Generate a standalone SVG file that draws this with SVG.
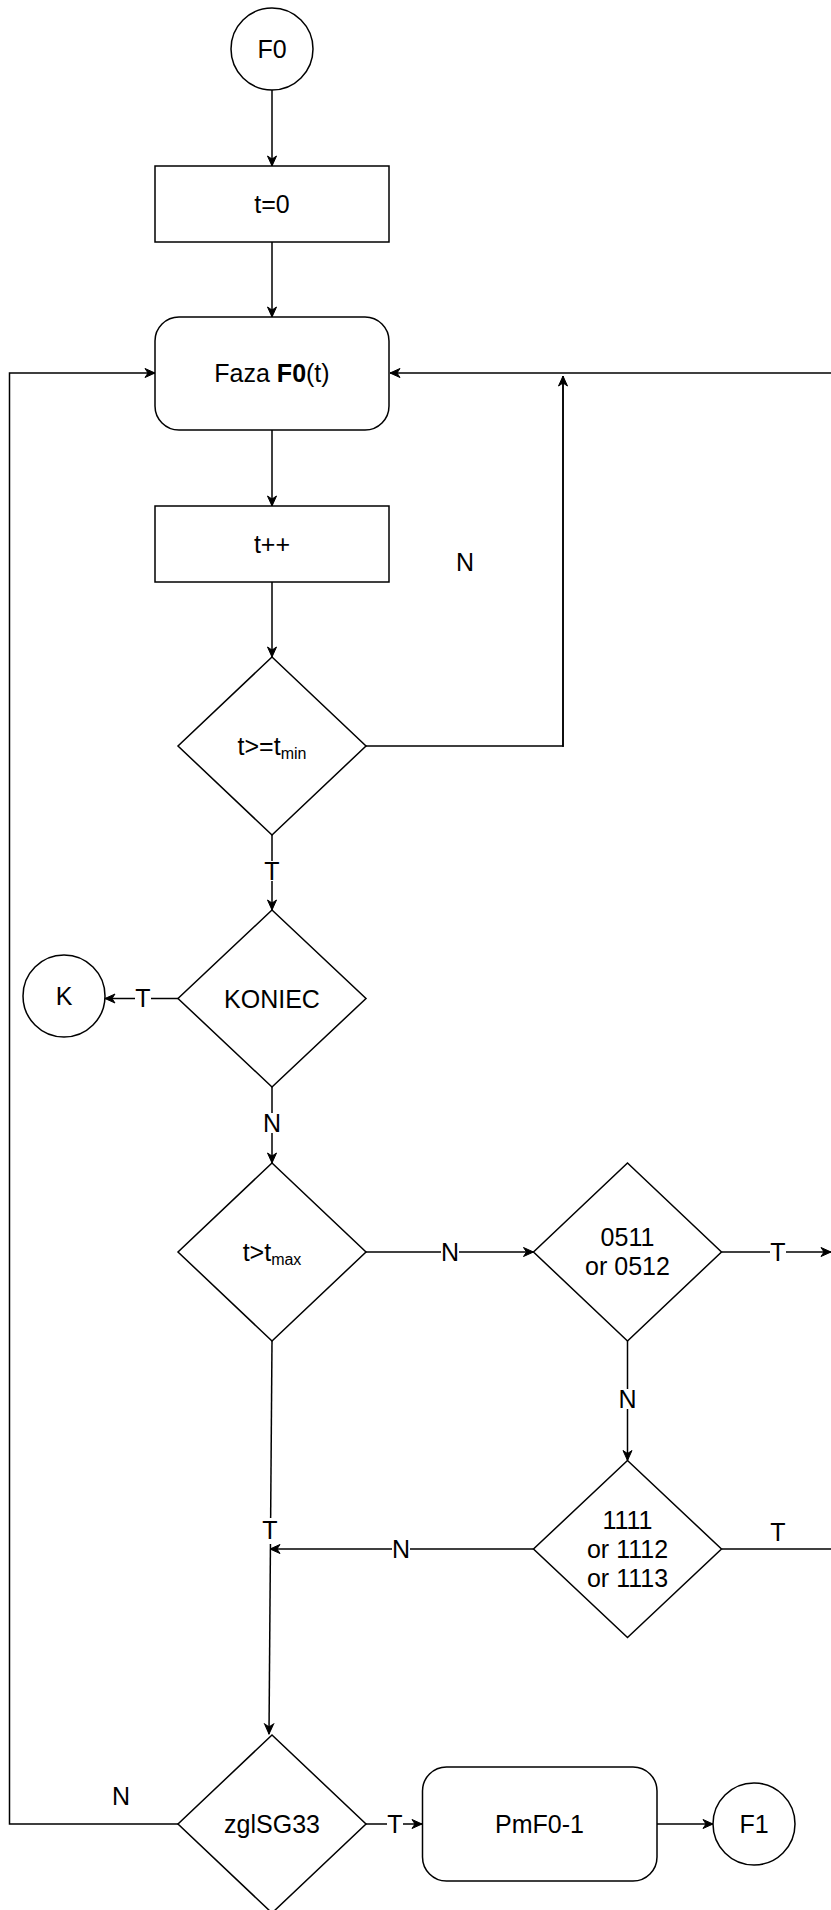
<svg xmlns="http://www.w3.org/2000/svg" width="831" height="1910" viewBox="0 0 831 1910">
<style>
.s{fill:#fff;stroke:#000;stroke-width:1.5}
.c{fill:none;stroke:#000;stroke-width:1.5}
.ca{fill:none;stroke:#000;stroke-width:1.5;marker-end:url(#ah)}
text{font-family:"Liberation Sans",Arial,sans-serif;font-size:25px;fill:#000;text-anchor:middle}
.bg{fill:#fff;stroke:none}
</style>
<defs>
<marker id="ah" viewBox="0 0 12 12" refX="11" refY="6" markerWidth="12" markerHeight="12" markerUnits="userSpaceOnUse" orient="auto">
<path d="M1,1.5 L11,6 L1,10.5 L4,6 Z" fill="#000" stroke="#000" stroke-width="1" stroke-linejoin="miter"/>
</marker>
</defs>
<rect width="831" height="1910" fill="#fff"/>
<g id="connectors">
<path class="ca" d="M272,90 V166"/>
<path class="ca" d="M272,242 V317"/>
<path class="ca" d="M272,430 V506"/>
<path class="ca" d="M272,582 V657"/>
<path class="ca" d="M272,835 V910"/>
<rect class="bg" x="264" y="861" width="16" height="20"/>
<text x="272" y="880">T</text>
<path class="ca" d="M178,998.5 H105"/>
<rect class="bg" x="135" y="988" width="16" height="20"/>
<text x="143" y="1007">T</text>
<path class="ca" d="M272,1087 V1163"/>
<rect class="bg" x="263" y="1113" width="18" height="20"/>
<text x="272" y="1132">N</text>
<path class="c" d="M366,746 H563 V376"/>
<path class="ca" d="M563,747 V376"/>
<path class="ca" d="M831,373 H390"/>
<path class="ca" d="M366,1252 H533.5"/>
<rect class="bg" x="441" y="1242" width="18" height="20"/>
<text x="450" y="1261">N</text>
<path class="ca" d="M721.5,1252 H831"/>
<rect class="bg" x="770" y="1242" width="16" height="20"/>
<text x="778" y="1261">T</text>
<path class="ca" d="M627.5,1341 V1460.5"/>
<rect class="bg" x="618.5" y="1389" width="18" height="20"/>
<text x="627.5" y="1408">N</text>
<path class="c" d="M721.5,1549 H831"/>
<text x="778" y="1541">T</text>
<path class="ca" d="M533.5,1549 H270"/>
<rect class="bg" x="392" y="1539" width="18" height="20"/>
<text x="401" y="1558">N</text>
<path class="ca" d="M272,1341 L269,1734"/>
<rect class="bg" x="262" y="1518" width="16" height="26"/>
<text x="270" y="1539">T</text>
<path class="ca" d="M366,1824 H422"/>
<rect class="bg" x="387" y="1814" width="16" height="20"/>
<text x="395" y="1833">T</text>
<path class="ca" d="M657,1824 H713"/>
<path class="ca" d="M178,1824 H9.5 V373 H155"/>
<text x="121" y="1805">N</text>
<text x="465" y="571">N</text>
</g>
<g id="F0"><circle class="s" cx="272" cy="49" r="41"/><text x="272" y="58">F0</text></g>
<g id="t0"><rect class="s" x="155" y="166" width="234" height="76"/><text x="272" y="213">t=0</text></g>
<g id="faza"><rect class="s" x="155" y="317" width="234" height="113" rx="24" ry="24"/><text x="272" y="382">Faza <tspan font-weight="bold">F0</tspan>(t)</text></g>
<g id="tpp"><rect class="s" x="155" y="506" width="234" height="76"/><text x="272" y="553">t++</text></g>
<g id="tmin"><path class="s" d="M272,657 L366,746 L272,835 L178,746 Z"/><text x="272" y="755">t&gt;=t<tspan font-size="16" dy="4">min</tspan></text></g>
<g id="koniec"><path class="s" d="M272,910 L366,998.5 L272,1087 L178,998.5 Z"/><text x="272" y="1007.5">KONIEC</text></g>
<g id="K"><circle class="s" cx="64" cy="996" r="41"/><text x="64" y="1005">K</text></g>
<g id="tmax"><path class="s" d="M272,1163 L366,1252 L272,1341 L178,1252 Z"/><text x="272" y="1261">t&gt;t<tspan font-size="16" dy="4">max</tspan></text></g>
<g id="d0511"><path class="s" d="M627.5,1163 L721.5,1252 L627.5,1341 L533.5,1252 Z"/><text x="627.5" y="1246">0511</text><text x="627.5" y="1275">or 0512</text></g>
<g id="d1111"><path class="s" d="M627.5,1460.5 L721.5,1549 L627.5,1637.5 L533.5,1549 Z"/><text x="627.5" y="1529">1111</text><text x="627.5" y="1558">or 1112</text><text x="627.5" y="1587">or 1113</text></g>
<g id="zgl"><path class="s" d="M272,1735 L366,1824 L272,1913 L178,1824 Z"/><text x="272" y="1833">zglSG33</text></g>
<g id="pmf"><rect class="s" x="422.5" y="1767" width="234.5" height="114" rx="24" ry="24"/><text x="539.5" y="1833">PmF0-1</text></g>
<g id="F1"><circle class="s" cx="754" cy="1824" r="41"/><text x="754" y="1833">F1</text></g>
</svg>
